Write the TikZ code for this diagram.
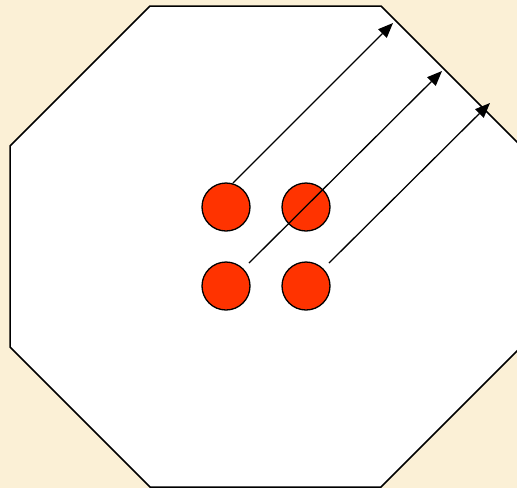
\documentclass[tikz,border=0pt]{standalone}
\usetikzlibrary{arrows.meta}
\definecolor{parch}{RGB}{251,240,214}
\definecolor{dotred}{RGB}{255,51,0}
\tikzset{
  dot/.style={circle,draw=black,line width=1.3pt,fill=dotred,minimum size=48pt,inner sep=0pt},
  ray/.style={line width=1.3pt,-{Triangle[length=15pt,width=12pt]}},
  octo/.style={draw=black,line width=1.5pt,fill=white,line join=miter}
}
\begin{document}
\begin{tikzpicture}[x=1pt,y=-1pt]
\useasboundingbox (0,0) rectangle (517,488);
\fill[parch] (0,0) rectangle (517,488);
\begin{scope}
\clip (0,0) rectangle (517,488);
\draw[octo] (150,6) -- (381,6) -- (521,146) -- (521,347) -- (381,487) -- (150,487) -- (10,347) -- (10,146) -- cycle;
\end{scope}
\node[dot] (c1) at (226,207) {};
\node[dot] (c2) at (306,207) {};
\node[dot] (c3) at (226,286) {};
\node[dot] (c4) at (306,286) {};
\coordinate (s1) at (233,183);
\coordinate (e1) at (393,23);
\coordinate (s2) at (249,263);
\coordinate (e2) at (442,71);
\coordinate (s3) at (329,263);
\coordinate (e3) at (490,103);
\draw[ray] (s1) -- (e1);
\draw[ray] (s2) -- (e2);
\draw[ray] (s3) -- (e3);
\end{tikzpicture}
\end{document}
